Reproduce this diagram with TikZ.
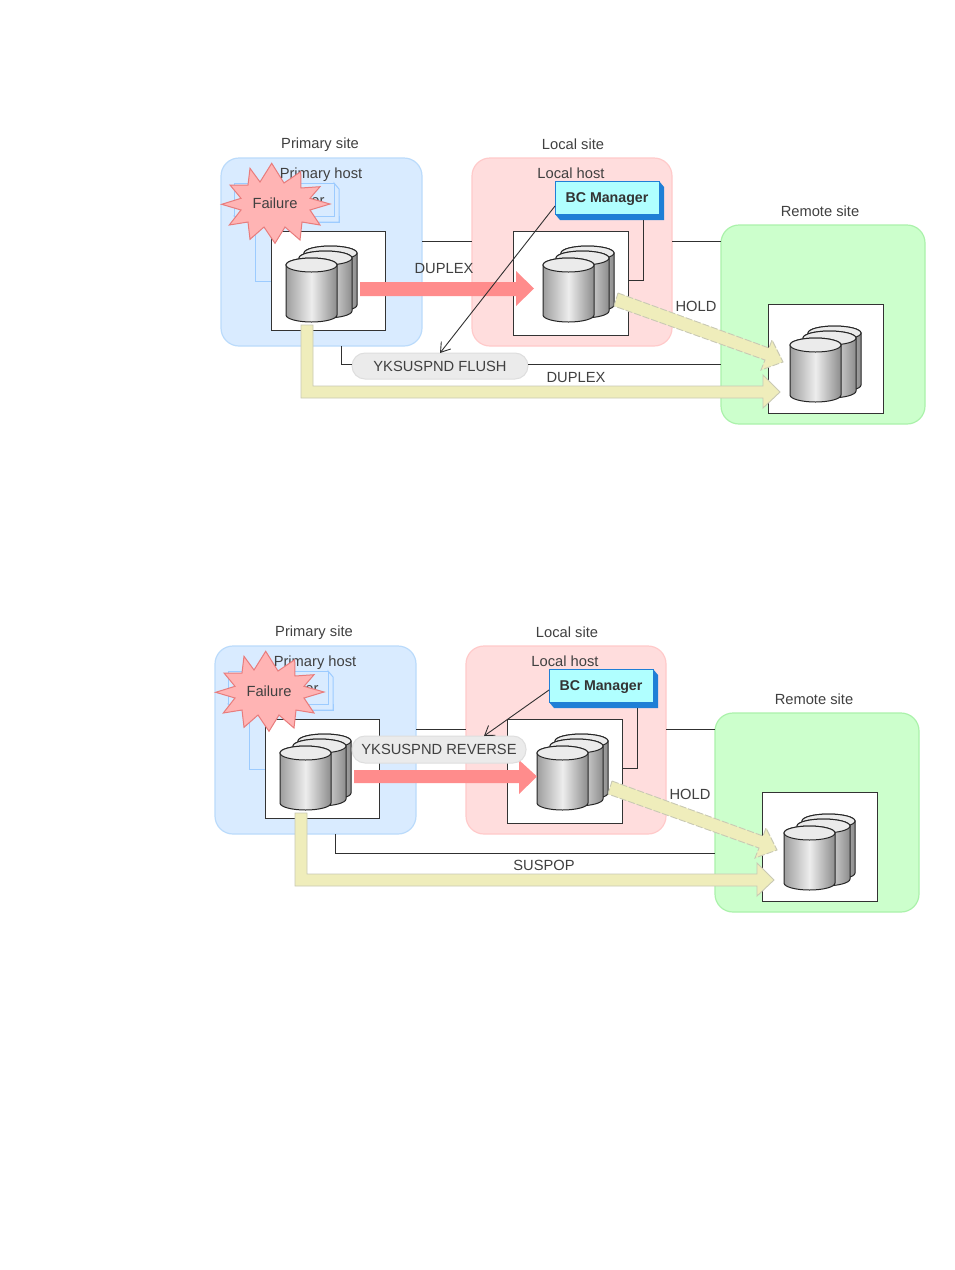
\documentclass[tikz,border=0pt]{standalone}
\usepackage{fontspec}
\setmainfont{Liberation Sans}
\usetikzlibrary{arrows.meta}
\definecolor{txt}{HTML}{404040}
\definecolor{wirec}{HTML}{303030}
\definecolor{psf}{HTML}{D9EBFF}\definecolor{psd}{HTML}{BBDBFB}
\definecolor{lsf}{HTML}{FFDDDD}\definecolor{lsd}{HTML}{FFCACA}
\definecolor{rsf}{HTML}{CCFFCC}\definecolor{rsd}{HTML}{ABF2AB}
\definecolor{pinkar}{HTML}{FF8C8C}
\definecolor{yel}{HTML}{EFEDBB}\definecolor{yeld}{HTML}{C9C9B4}
\definecolor{bcf}{HTML}{B0FFFF}\definecolor{bcd}{HTML}{1F7FD6}
\definecolor{starf}{HTML}{FFB4B4}\definecolor{stard}{HTML}{E87C7C}
\definecolor{pillf}{HTML}{EBEBEB}\definecolor{pilld}{HTML}{DEDEDE}
\definecolor{hidb}{HTML}{9CCBFF}
\tikzset{
  site/.style={anchor=north west,inner sep=0pt,outer sep=0pt,rounded corners=18pt,line width=1.2pt},
  volbox/.style={anchor=north west,inner sep=0pt,outer sep=0pt,fill=white,draw=black!80,line width=1pt},
  lbl/.style={text=txt,font=\fontsize{14.7}{16}\selectfont,inner sep=0pt,text height=10pt,text depth=0pt},
  wire/.style={draw=wirec,line width=1pt},
  bcbox/.style={anchor=north west,inner sep=0pt,outer sep=0pt,fill=bcf,draw=bcd,line width=1pt,
    minimum width=104pt,minimum height=33pt,font=\fontsize{14.2}{16}\selectfont\bfseries,text=black!80,text height=10pt,text depth=0pt},
  pillbox/.style={anchor=north west,inner sep=0pt,outer sep=0pt,fill=pillf,draw=pilld,line width=1pt,
    rounded corners=13pt,text=txt,font=\fontsize{14.7}{16}\selectfont,text height=10pt,text depth=0pt},
  pinkarrow/.style={fill=pinkar},
  yelarrow/.style={fill=yel,draw=yeld,line width=.9pt},
  cylshape/.style={left color=black!38,right color=black!45,middle color=black!7,draw=black!85,line width=1pt},
  bcline/.style={draw=wirec,line width=.9pt,-{Straight Barb[length=9pt,width=12pt]}},
}
% cylinder: left x, right x, top y, bottom y
\newcommand{\onecyl}[4]{%
  \pgfmathsetmacro{\cylr}{(#2-#1)/2}%
  \pgfmathsetmacro{\cylc}{(#1+#2)/2}%
  \shadedraw[cylshape] (#1,#3) -- (#1,#4) arc[start angle=180,end angle=360,x radius=\cylr pt,y radius=7pt]
     -- (#2,#3) arc[start angle=0,end angle=180,x radius=\cylr pt,y radius=7pt] -- cycle;
  \draw[fill=black!8,draw=black!85,line width=1pt] (\cylc,#3) ellipse[x radius=\cylr pt,y radius=7pt];
}
\newcommand{\cylstack}[2]{%
  \begin{scope}[shift={(#1,#2)}]
    \onecyl{304}{357}{253}{305}
    \onecyl{299}{352}{258}{311}
    \onecyl{286}{337}{265}{315}
  \end{scope}}
\newcommand{\panelbase}[1]{%
  \node[site,fill=psf,draw=psd,minimum width=201pt,minimum height=188pt] (#1ps) at (221,158) {};
  \node[site,fill=lsf,draw=lsd,minimum width=200pt,minimum height=188pt] (#1ls) at (472,158) {};
  \node[site,fill=rsf,draw=rsd,minimum width=204pt,minimum height=199pt] (#1rs) at (721,225) {};
  \draw[wire] (#1ps.east |- 0,241) -- (#1ls.west |- 0,241);
  \draw[wire] (#1ls.east |- 0,241) -- (#1rs.west |- 0,241);
  \node[lbl] (#1pst) at (320,143) {Primary site};
  \node[lbl] (#1lst) at (573,144) {Local site};
  \node[lbl] (#1rst) at (820,211) {Remote site};
  \node[lbl] (#1pht) at (321,173) {Primary host};
  \node[lbl] (#1lht) at (571,173) {Local host};
  % stacked program boxes behind the failure mark
  \draw[draw=hidb,fill=psf,line width=1pt] (255,216) -- (255,281) -- (271,281) -- (271,222) -- (339,222) -- (339,216) -- cycle;
  \draw[draw=hidb,fill=psf,line width=1pt] (334,183) -- (339,189) -- (339,222) -- (240,222) -- (234,216) -- (334,216) -- cycle;
  \node[draw=hidb,fill=psf,line width=1pt,anchor=north west,minimum width=100pt,minimum height=33pt,inner sep=0pt] (#1pb) at (234,183) {};
  \node[lbl] (#1pbt) at (318,200) {er};
  \node[volbox,minimum width=114pt,minimum height=99pt] (#1pv) at (271,231) {};
  \node[volbox,minimum width=115pt,minimum height=104pt] (#1lv) at (513,231) {};
  \node[volbox,minimum width=115pt,minimum height=109pt] (#1rv) at (768,304) {};
  \cylstack{0}{0}
  \cylstack{257}{0}
  \cylstack{504}{80}
  % failure star
  \draw[fill=starf,draw=stard,line width=1pt]
    (250,168.3)--(260,182)--(271.7,163.3)--(284,183)--(300.7,171.7)--(301,188)--(320,186.7)--(310,198.3)
    --(330,204)--(310,210)--(320,225)--(302,222)--(300,240)--(285,227)--(275,243.3)--(264,227)--(250,239.3)
    --(248,222)--(229.3,225)--(241,210)--(221.7,204.3)--(241,198.3)--(230,185)--(248,185)--cycle;
  \node[lbl] (#1ft) at (275,203) {Failure};
  % yellow pair arrows
  \draw[yelarrow] (301,325) -- (301,398) -- (763,398) -- (763,408) -- (780,392) -- (763,375) -- (763,386) -- (313,386) -- (313,325) -- cycle;
  \draw[yelarrow,dashed,dash pattern=on 7pt off 2pt] (618,293) -- (769,348) -- (772,340) -- (783,362) -- (761,370) -- (765,360) -- (614,306) -- cycle;
  \node[lbl] (#1hold) at (696,306) {HOLD};
  % BC Manager
  \node[bcbox] (#1bc) at (555,181) {BC Manager};
  \fill[bcd] (#1bc.south west) -- ++(5,6) -- ([shift={(5pt,-6pt)}]#1bc.south east) -- ([shift={(5pt,-6pt)}]#1bc.north east) -- (#1bc.north east) -- (#1bc.south east) -- cycle;
  \draw[wire] (643,220) -- (643,280) -- (#1lv.east |- 0,280);
}
\begin{document}
\begin{tikzpicture}[x=1pt,y=-1pt]
\useasboundingbox[fill=white] (0,0) rectangle (954,1270);
% upper panel
\begin{scope}
  \panelbase{a}
  \fill[pinkarrow] (360,282) -- (516,282) -- (516,271) -- (534,288.5) -- (516,306) -- (516,296) -- (360,296) -- cycle;
  \node[lbl] (adup) at (444,268) {DUPLEX};
  \node[pillbox,minimum width=176pt,minimum height=26pt] (apill) at (352,353) {YKSUSPND FLUSH};
  \draw[wire] (341,346) -- (341,364) -- (apill.west |- 0,364);
  \draw[wire] (apill.east |- 0,364) -- (ars.west |- 0,364);
  \node[lbl] (adup2) at (576,377) {DUPLEX};
  \draw[bcline] ([yshift=-8.5pt]abc.west) -- (apill.north);
\end{scope}
% lower panel
\begin{scope}[shift={(-6,488)}]
  \panelbase{b}
  \fill[pinkarrow] (360,282) -- (525,282) -- (525,272) -- (543,288.5) -- (525,306) -- (525,295) -- (360,295) -- cycle;
  \node[pillbox,minimum width=174pt,minimum height=27pt] (bpill) at (358,248) {YKSUSPND REVERSE};
  \draw[wire] (341,346) -- (341,365) -- (brs.west |- 0,365);
  \node[lbl] (bsus) at (550,377) {SUSPOP};
  \draw[bcline] ([yshift=-4.5pt]bbc.west) -- ([xshift=45pt]bpill.north);
\end{scope}
\end{tikzpicture}
\end{document}
